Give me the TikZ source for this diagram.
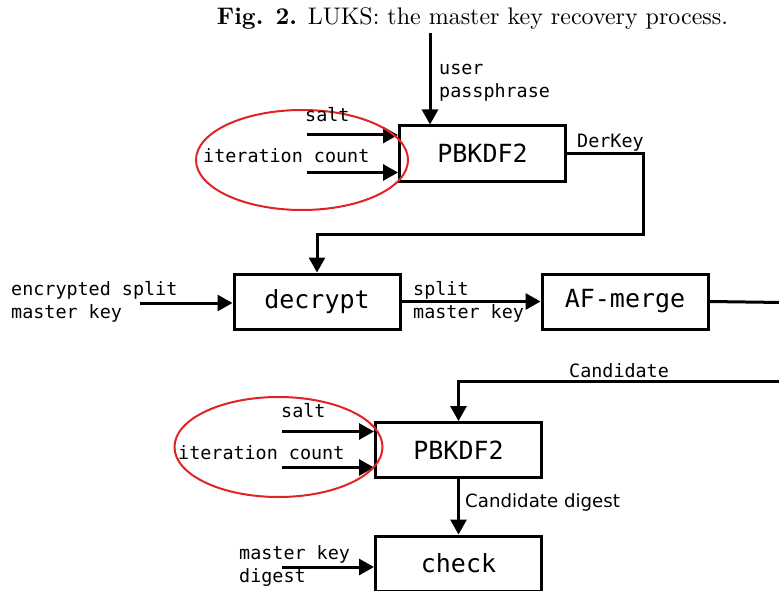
\documentclass[tikz,border=0pt]{standalone}
\usepackage{fontspec}
\setmonofont{DejaVu Sans Mono}
\setsansfont{DejaVu Sans}
\newfontfamily\capfont{lmroman10}[Extension=.otf, UprightFont=*-regular, BoldFont=*-bold]
\usetikzlibrary{arrows.meta}
\definecolor{ringred}{RGB}{225,35,35}

\begin{document}
\begin{tikzpicture}[%
      x=1pt, y=-1pt,
      block/.style={draw, line width=3pt, minimum width=166pt, minimum height=55pt,
        inner sep=0pt, font=\fontsize{25}{30}\selectfont\ttfamily},
      flow/.style={line width=3pt, -{Triangle[length=15pt,width=16pt]}},
      wire/.style={line width=3pt},
      lbl/.style={anchor=base west, inner sep=0pt, align=left,
        font=\fontsize{18.4}{23}\selectfont\ttfamily},
      ring/.style={color=ringred, line width=2pt},
      ]
      \useasboundingbox (0,0) rectangle (779,591);

      % caption
      \node [anchor=base, inner sep=0pt, font=\fontsize{24}{28}\selectfont\capfont] (caption) at (472.5,25)
        {\textbf{Fig. 2.} LUKS: the master key recovery process.};

      % first PBKDF2
      \node [block] (pbkA) at (482.5,153.5) {PBKDF2};
      \coordinate (pass) at (430,33);
      \coordinate (saltA) at (307,135);
      \coordinate (iterA) at (307,172.5);
      \draw [flow] (pass) -- (pass |- pbkA.north);
      \draw [flow] (saltA) -- (saltA -| pbkA.west);
      \draw [flow] (iterA) -- (iterA -| pbkA.west);
      \draw [ring] (302,160) ellipse [x radius=106pt, y radius=50pt];
      \node [lbl] (passlbl) at (439,98) {user\\passphrase};
      \node [lbl] (saltlblA) at (305,122) {salt};
      \node [lbl] (iterlblA) at (203,162) {iteration count};
      \node [lbl] (derlbl) at (577,148) {DerKey};

      % decrypt and merge
      \node [block] (decrypt) at (317,301.5) {decrypt};
      \node [block] (afmerge) at (625,301.5) {AF-merge};
      \coordinate (derturn) at (643,234);
      \coordinate (encin) at (140,303);
      \coordinate (afout) at (782,302.5);
      \draw [flow] (pbkA.east) -| (derturn) -| (decrypt.north);
      \draw [flow] (encin) -- (encin -| decrypt.west);
      \draw [flow] (decrypt.east) -- (afmerge.west);
      \draw [wire] (afmerge.east) -- (afout);
      \node [lbl] (enclbl) at (11,318) {encrypted split\\master key};
      \node [lbl] (splitlbl) at (413,318) {split\\master key};

      % second PBKDF2
      \node [block] (pbkB) at (458.5,450) {PBKDF2};
      \coordinate (cand) at (782,381.5);
      \coordinate (saltB) at (282,431.5);
      \coordinate (iterB) at (282,467.5);
      \draw [flow] (cand) -| (pbkB.north);
      \draw [flow] (saltB) -- (saltB -| pbkB.west);
      \draw [flow] (iterB) -- (iterB -| pbkB.west);
      \draw [ring] (278.5,447) ellipse [x radius=104pt, y radius=50pt];
      \node [lbl] (candlbl) at (569,377) {Candidate};
      \node [lbl] (saltlblB) at (281,417) {salt};
      \node [lbl] (iterlblB) at (178,459) {iteration count};

      % check
      \node [block] (check) at (458.5,563.5) {check};
      \coordinate (mkdin) at (282,567);
      \draw [flow] (pbkB.south) -- (check.north);
      \draw [flow] (mkdin) -- (mkdin -| check.west);
      \node [anchor=base west, inner sep=0pt, font=\fontsize{18.2}{22}\selectfont\sffamily] (digestlbl)
        at (465,507) {Candidate digest};
      \node [lbl] (mkdlbl) at (239,582) {master key\\digest};
\end{tikzpicture}
\end{document}
